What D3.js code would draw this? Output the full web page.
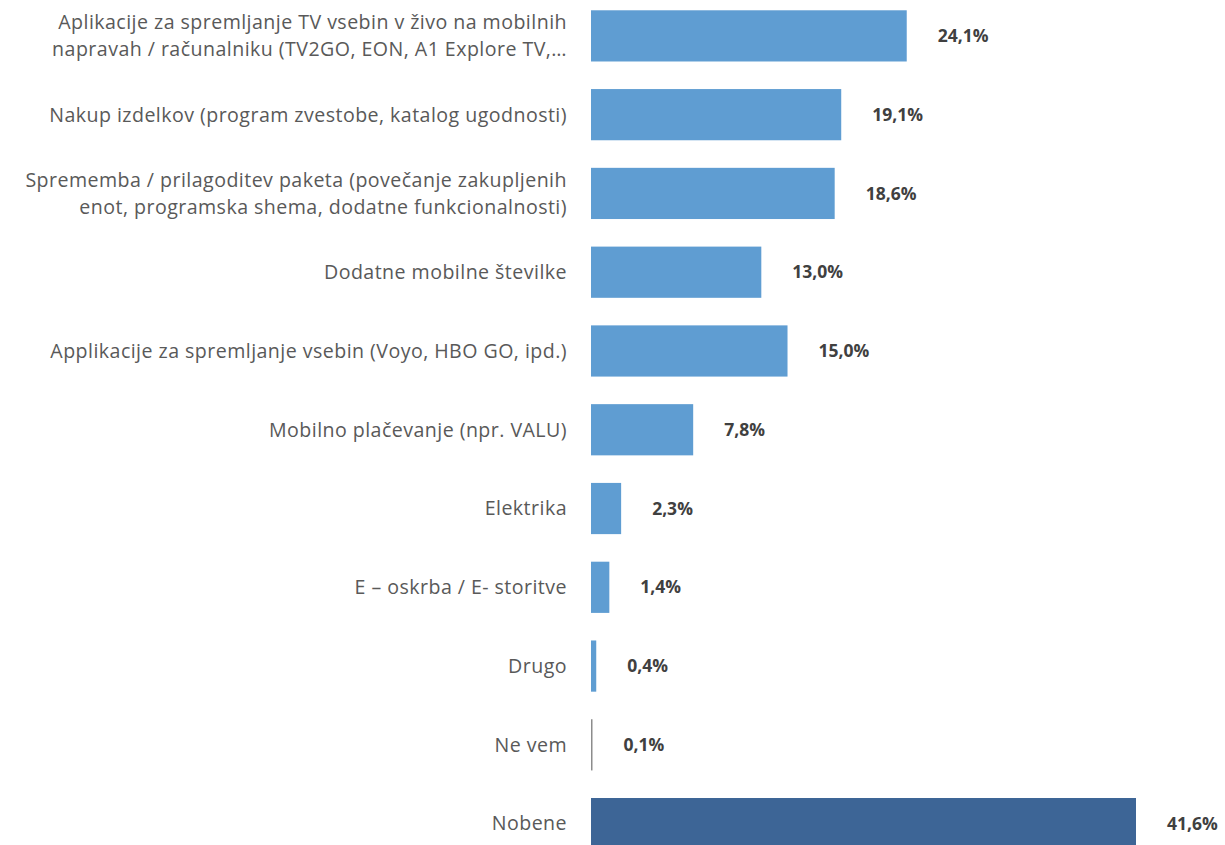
<!DOCTYPE html>
<html><head><meta charset="utf-8">
<script src="https://cdn.jsdelivr.net/npm/d3@7"></script>
<style>body{margin:0;background:#fff}svg{display:block}</style>
</head><body>
<svg id="c" width="1225" height="845"></svg>
<script>
const categories = [
  ["Aplikacije za spremljanje TV vsebin v živo na mobilnih", "napravah / računalniku (TV2GO, EON, A1 Explore TV,…"],
  ["Nakup izdelkov (program zvestobe, katalog ugodnosti)"],
  ["Sprememba / prilagoditev paketa (povečanje zakupljenih", "enot, programska shema, dodatne funkcionalnosti)"],
  ["Dodatne mobilne številke"],
  ["Applikacije za spremljanje vsebin (Voyo, HBO GO, ipd.)"],
  ["Mobilno plačevanje (npr. VALU)"],
  ["Elektrika"],
  ["E – oskrba / E- storitve"],
  ["Drugo"],
  ["Ne vem"],
  ["Nobene"]
];
const values = [24.1, 19.1, 18.6, 13.0, 15.0, 7.8, 2.3, 1.4, 0.4, 0.1, 41.6];
const valueLabels = ["24,1%","19,1%","18,6%","13,0%","15,0%","7,8%","2,3%","1,4%","0,4%","0,1%","41,6%"];
const barColors = ["#5f9dd2","#5f9dd2","#5f9dd2","#5f9dd2","#5f9dd2","#5f9dd2","#5f9dd2","#5f9dd2","#5f9dd2","#8c8c8c","#3d6596"];

const svg = d3.select("#c");
const x0 = 591;
const x = d3.scaleLinear().domain([0, 41.6]).range([x0, 1136]);
const idx = d3.range(values.length);
const y = d3.scaleBand().domain(idx).range([-3.5, 863]).paddingInner(0.35).paddingOuter(0.175);

svg.selectAll("rect.bar").data(idx).join("rect")
  .attr("x", x0).attr("y", i => y(i))
  .attr("width", i => Math.max(1.5, x(values[i]) - x0))
  .attr("height", y.bandwidth())
  .attr("fill", i => barColors[i]);

const font = "'Open Sans', sans-serif";
const lab = svg.selectAll("text.cat").data(idx).join("text")
  .attr("class","cat")
  .attr("text-anchor","end")
  .attr("font-family", font)
  .attr("font-size", 19.6)
  .attr("letter-spacing", 0.45)
  .attr("fill", "#595959");
lab.each(function(i){
  const t = d3.select(this);
  const lines = categories[i];
  const cy = y(i) + y.bandwidth()/2;
  const lh = 27;
  lines.forEach((l, k) => {
    t.append("tspan").attr("x", 567)
      .attr("y", cy + (k - (lines.length-1)/2)*lh)
      .attr("dy", "0.35em").text(l);
  });
});

svg.selectAll("text.val").data(idx).join("text")
  .attr("class","val")
  .attr("x", i => Math.max(x(values[i]), x0+1.5) + 31)
  .attr("y", i => y(i) + y.bandwidth()/2)
  .attr("dy","0.35em")
  .attr("font-family", font)
  .attr("font-weight","bold")
  .attr("font-size", 17.5)
  .attr("fill","#404040")
  .text(i => valueLabels[i]);
</script>
</body></html>
